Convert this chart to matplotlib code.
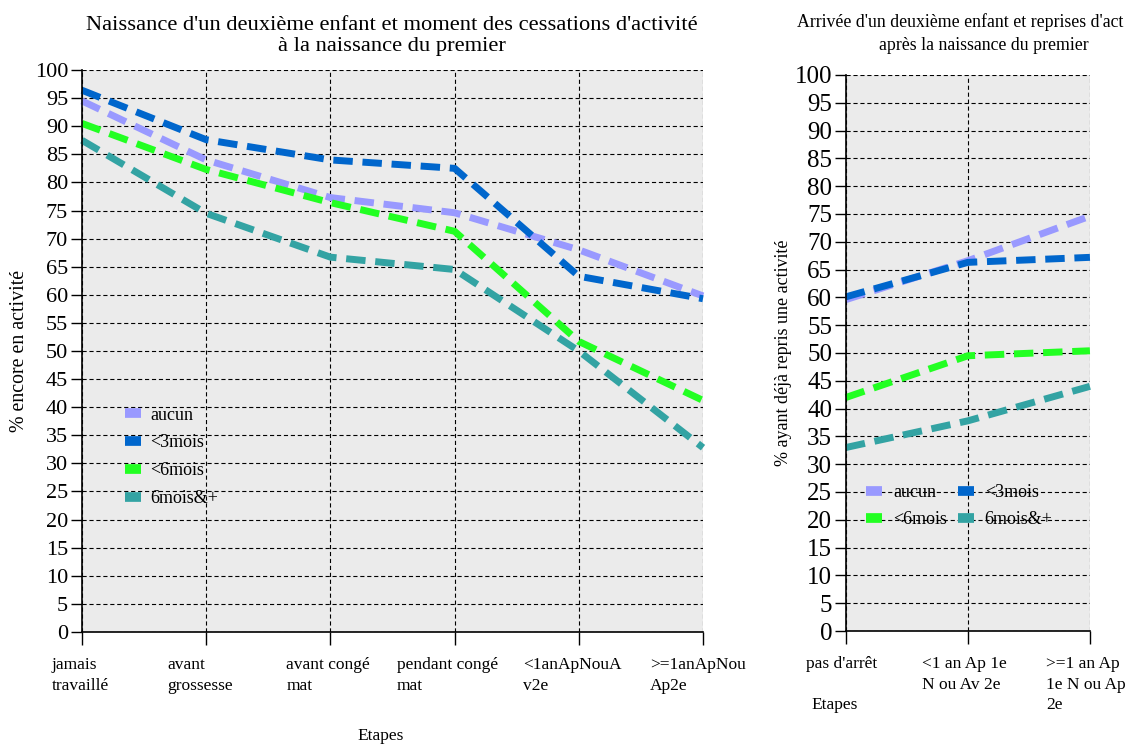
import matplotlib.pyplot as plt
import numpy as np
from matplotlib.transforms import ScaledTranslation

plt.rcParams['font.family'] = ['Liberation Serif', 'DejaVu Serif']
plt.rcParams['lines.scale_dashes'] = False

series = ['aucun', '<3mois', '<6mois', '6mois&+']
colors = ['#9999FF', '#0066CC', '#22FF22', '#33A3A3']

left_cats = ['jamais\ntravaillé', 'avant\ngrossesse', 'avant congé\nmat',
             'pendant congé\nmat', '<1anApNouA\nv2e', '>=1anApNou\nAp2e']
left_aucun = [94.5, 84, 77.3, 74.6, 68, 59.8]
left_3mois = [96.4, 87.6, 84, 82.5, 63.3, 59.3]
left_6mois = [90.5, 82.3, 76.4, 71.3, 51.7, 41.2]
left_6plus = [87.5, 74.5, 66.7, 64.5, 50, 32.8]

right_cats = ['pas d\'arrêt', '<1 an Ap 1e\nN ou Av 2e', '>=1 an Ap\n1e N ou Ap\n2e']
right_aucun = [59.6, 66.6, 74.6]
right_3mois = [60.1, 66.3, 67.2]
right_6mois = [42, 49.5, 50.4]
right_6plus = [33, 37.8, 44]

fig = plt.figure(figsize=(11.37, 7.52), dpi=100)
ax1 = fig.add_axes([0.0721, 0.1596, 0.5462, 0.7473])
ax2 = fig.add_axes([0.744, 0.1609, 0.2146, 0.7394])


def style_axes(ax, ncat, ysize):
    ax.set_facecolor('#EBEBEB')
    ax.set_xlim(0, ncat - 1)
    ax.set_ylim(0, 100)
    ax.set_yticks(np.arange(0, 101, 5))
    ax.set_xticks(np.arange(ncat))
    ax.grid(True, color='black', linestyle=(0, (3, 2)), linewidth=0.8)
    ax.set_axisbelow(True)
    for s in ['top', 'right']:
        ax.spines[s].set_visible(False)
    ax.spines['left'].set_linewidth(1.2)
    ax.spines['bottom'].set_linewidth(1.2)
    ax.tick_params(axis='y', direction='out', length=8, width=1, labelsize=ysize, pad=2)
    ax.tick_params(axis='x', direction='out', length=9, width=1)


style_axes(ax1, len(left_cats), 16)
style_axes(ax2, len(right_cats), 18)

for vals, name, c in zip([left_aucun, left_3mois, left_6mois, left_6plus], series, colors):
    ax1.plot(range(len(left_cats)), vals, color=c, lw=5, dashes=(14, 7), label=name,
             solid_capstyle='butt', clip_on=False)
for vals, name, c in zip([right_aucun, right_3mois, right_6mois, right_6plus], series, colors):
    ax2.plot(range(len(right_cats)), vals, color=c, lw=5, dashes=(14, 7), label=name,
             solid_capstyle='butt', clip_on=False)

# x tick labels, left aligned with shifts like the original
ax1.set_xticklabels(left_cats, fontsize=12.5, ha='left', linespacing=1.35)
for lab, dx in zip(ax1.get_xticklabels(), [-30, -39, -44, -58, -56, -53]):
    lab.set_transform(lab.get_transform() + ScaledTranslation(dx / 100, -8 / 100, fig.dpi_scale_trans))
ax2.set_xticklabels(right_cats, fontsize=12.5, ha='left', linespacing=1.35)
for lab, dx in zip(ax2.get_xticklabels(), [-40, -46, -44]):
    lab.set_transform(lab.get_transform() + ScaledTranslation(dx / 100, -8 / 100, fig.dpi_scale_trans))

fig.text(0.345, 0.952, "Naissance d'un deuxième enfant et moment des cessations d'activité\nà la naissance du premier",
         fontsize=16.2, ha='center', va='center', linespacing=1.2)
# right title: the original is cut at the figure edge
fig.text(0.701, 0.971, "Arrivée d'un deuxième enfant et reprises d'act",
         fontsize=12.8, ha='left', va='center')
fig.text(0.8654, 0.939, "après la naissance du premier",
         fontsize=12.8, ha='center', va='center')

ax1.set_ylabel('% encore en activité', fontsize=14.3, labelpad=4)
ax2.set_ylabel('% ayant déjà repris une activité', fontsize=13, labelpad=2)
fig.text(0.314, 0.01, 'Etapes', fontsize=12.5, ha='left', va='bottom')
fig.text(0.714, 0.052, 'Etapes', fontsize=12.5, ha='left', va='bottom')

leg1 = ax1.legend(loc='upper left', bbox_to_anchor=(0.043, 0.43), frameon=False, fontsize=13,
                  handlelength=0.9, handletextpad=0.5, labelspacing=0.6)
for h in leg1.get_lines():
    h.set_linestyle('-')
    h.set_linewidth(7)
hs, ls = ax2.get_legend_handles_labels()
order = [0, 2, 1, 3]
leg2 = ax2.legend([hs[i] for i in order], [ls[i] for i in order], loc='upper left',
                  bbox_to_anchor=(0.015, 0.293), frameon=False, fontsize=13,
                  ncol=2, handlelength=0.9, handletextpad=0.6, columnspacing=0.6, labelspacing=0.55)
for h in leg2.get_lines():
    h.set_linestyle('-')
    h.set_linewidth(7)

fig.savefig('out.png', dpi=100)
